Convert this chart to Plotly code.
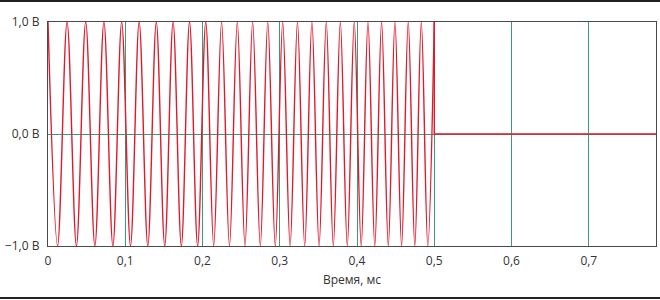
import plotly.graph_objects as go

# Times (ms) of the positive peaks (+1,0 В) of the swept sine
peak_times = [0.0, 0.0247, 0.0488, 0.0724, 0.0954, 0.1180, 0.1402, 0.1619, 0.1832,
              0.2042, 0.2247, 0.2450, 0.2649, 0.2845, 0.3038, 0.3229, 0.3416, 0.3602,
              0.3784, 0.3964, 0.4142, 0.4318, 0.4491, 0.4663, 0.4832, 0.5000]
# Times (ms) of the negative peaks (-1,0 В)
trough_times = [0.0124, 0.0368, 0.0607, 0.0840, 0.1068, 0.1292, 0.1511, 0.1726, 0.1937,
                0.2145, 0.2349, 0.2550, 0.2748, 0.2942, 0.3134, 0.3323, 0.3509, 0.3693,
                0.3874, 0.4054, 0.4230, 0.4405, 0.4577, 0.4748, 0.4916]
peak_value = 1.0
trough_value = -1.0

# Silent part after the burst
tail_times = [0.5, 0.5, 0.787]
tail_values = [1.0, 0.0, 0.0]

x_tick_vals = [0, 0.1, 0.2, 0.3, 0.4, 0.5, 0.6, 0.7]
x_tick_text = ["0", "0,1", "0,2", "0,3", "0,4", "0,5", "0,6", "0,7"]
y_tick_vals = [-1, 0, 1]
y_tick_text = ["\u22121,0 В", "0,0 В", "1,0 В"]
x_title = "Время, мс"

# merge extrema into one ordered series
pts = [(t, peak_value) for t in peak_times] + [(t, trough_value) for t in trough_times]
pts.sort(key=lambda p: p[0])
bx = [p[0] for p in pts]
by = [p[1] for p in pts]

RED = "#e01a2c"
GREEN = "#3f9a7c"
FRAME = "#4a4a4a"

fig = go.Figure()
fig.add_trace(go.Scatter(x=bx, y=by, mode="lines",
                         line=dict(color=RED, width=1.4, shape="spline", smoothing=1.0),
                         hoverinfo="skip", showlegend=False, cliponaxis=True))
fig.add_trace(go.Scatter(x=tail_times, y=tail_values, mode="lines",
                         line=dict(color=RED, width=1.4),
                         hoverinfo="skip", showlegend=False))

L, R, T, B = 48, 4, 22, 54
W, H = 660, 300
pw = W - L - R
ph = H - T - B

fig.update_layout(
    width=W, height=H,
    margin=dict(l=L, r=R, t=T, b=B),
    paper_bgcolor="white", plot_bgcolor="white",
    font=dict(family="Open Sans, Noto Sans, sans-serif", size=12, color="#333333"),
    xaxis=dict(range=[0, 0.787], tickvals=x_tick_vals, ticktext=x_tick_text,
               showgrid=True, gridcolor=GREEN, gridwidth=1, zeroline=False,
               showline=True, linecolor=FRAME, linewidth=1.3, mirror=True,
               ticks="", ticklabelstandoff=3,
               title=dict(text=x_title, standoff=8, font=dict(size=12))),
    yaxis=dict(range=[-1, 1], tickvals=y_tick_vals, ticktext=y_tick_text,
               showgrid=True, gridcolor=GREEN, gridwidth=1, zeroline=False,
               showline=True, linecolor=FRAME, linewidth=1.3, mirror=True,
               ticks="", ticklabelstandoff=5),
    shapes=[
        dict(type="line", xref="paper", yref="paper",
             x0=-L / pw, x1=1 + R / pw, y0=1 + (T - 1) / ph, y1=1 + (T - 1) / ph,
             line=dict(color="#222222", width=2)),
        dict(type="line", xref="paper", yref="paper",
             x0=-L / pw, x1=1 + R / pw, y0=-(H - 2 - (H - B)) / ph, y1=-(H - 2 - (H - B)) / ph,
             line=dict(color="#222222", width=2)),
    ],
)

fig.write_html("out.html")
